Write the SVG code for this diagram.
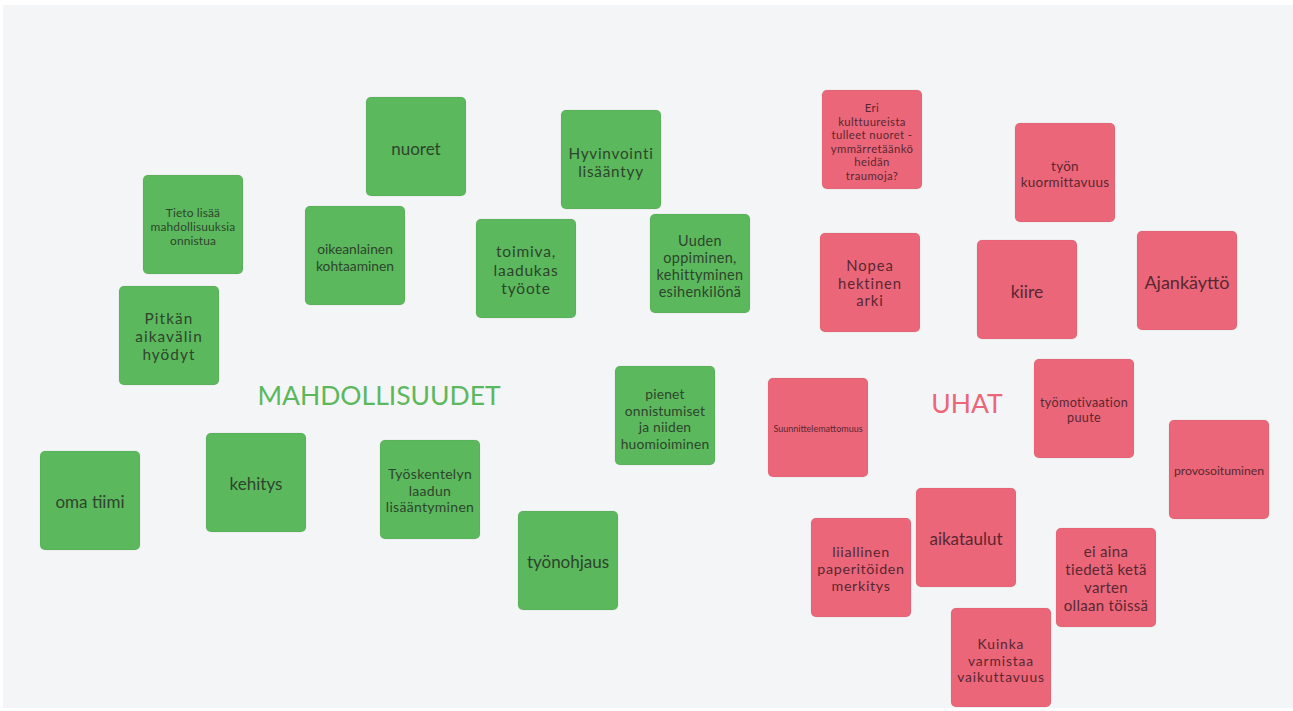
<svg xmlns="http://www.w3.org/2000/svg" width="1293" height="711" viewBox="0 0 1293 711">
<style>
.bg{fill:#f4f5f7}
.g{fill:#5cb85c}
.r{fill:#eb6679}
.n{stroke:rgba(0,0,0,0.06);stroke-width:1}
.tg{fill:#2c452c;font-family:Lato,"Liberation Sans",sans-serif;text-anchor:middle;dominant-baseline:central}
.tr{fill:#5a2631;font-family:Lato,"Liberation Sans",sans-serif;text-anchor:middle;dominant-baseline:central}
.big{font-family:Lato,"Liberation Sans",sans-serif;font-size:26.5px;text-anchor:middle;dominant-baseline:central}
</style>
<rect x="0" y="0" width="1293" height="711" fill="#ffffff"/>
<rect class="bg" x="3" y="5" width="1290" height="703"/>

<g id="label-mahdollisuudet"><text class="big" x="379" y="395" fill="#5cb85c">MAHDOLLISUUDET</text></g>
<g id="label-uhat"><text class="big" x="967" y="403" fill="#eb6679">UHAT</text></g>

<g id="connectors"></g>

<!-- green notes -->
<g id="g-nuoret"><rect class="g n" x="366" y="97" width="100" height="99" rx="5"/>
<text class="tg" font-size="17" x="416" y="148">nuoret</text></g>

<g id="g-hyvinvointi"><rect class="g n" x="561" y="110" width="100" height="99" rx="5"/>
<text class="tg" font-size="15.3" letter-spacing="0.75"><tspan x="611" y="153">Hyvinvointi</tspan><tspan x="611" y="171">lisääntyy</tspan></text></g>

<g id="g-tieto"><rect class="g n" x="143" y="175" width="100" height="99" rx="5"/>
<text class="tg" font-size="11.9" letter-spacing="0.15"><tspan x="193" y="212">Tieto lisää</tspan><tspan x="193" y="226">mahdollisuuksia</tspan><tspan x="193" y="240">onnistua</tspan></text></g>

<g id="g-oikeanlainen"><rect class="g n" x="305" y="206" width="100" height="99" rx="5"/>
<text class="tg" font-size="13.8"><tspan x="355" y="248">oikeanlainen</tspan><tspan x="355" y="265">kohtaaminen</tspan></text></g>

<g id="g-toimiva"><rect class="g n" x="476" y="219" width="100" height="99" rx="5"/>
<text class="tg" font-size="15.5" letter-spacing="0.8"><tspan x="526" y="251">toimiva,</tspan><tspan x="526" y="269.5">laadukas</tspan><tspan x="526" y="288">työote</tspan></text></g>

<g id="g-uuden"><rect class="g n" x="650" y="214" width="100" height="99" rx="5"/>
<text class="tg" font-size="14.4" letter-spacing="0.35"><tspan x="700" y="240">Uuden</tspan><tspan x="700" y="257">oppiminen,</tspan><tspan x="700" y="274">kehittyminen</tspan><tspan x="700" y="291">esihenkilönä</tspan></text></g>

<g id="g-pitkan"><rect class="g n" x="119" y="286" width="100" height="99" rx="5"/>
<text class="tg" font-size="15.3" letter-spacing="1.1"><tspan x="169" y="318">Pitkän</tspan><tspan x="169" y="336">aikavälin</tspan><tspan x="169" y="354">hyödyt</tspan></text></g>

<g id="g-pienet"><rect class="g n" x="615" y="366" width="100" height="99" rx="5"/>
<text class="tg" font-size="13.8" letter-spacing="0.2"><tspan x="665" y="393">pienet</tspan><tspan x="665" y="409.5">onnistumiset</tspan><tspan x="665" y="426">ja niiden</tspan><tspan x="665" y="442.5">huomioiminen</tspan></text></g>

<g id="g-omatiimi"><rect class="g n" x="40" y="451" width="100" height="99" rx="5"/>
<text class="tg" font-size="17" x="90" y="501">oma tiimi</text></g>

<g id="g-kehitys"><rect class="g n" x="206" y="433" width="100" height="99" rx="5"/>
<text class="tg" font-size="17" x="256" y="483">kehitys</text></g>

<g id="g-tyoskentelyn"><rect class="g n" x="380" y="440" width="100" height="99" rx="5"/>
<text class="tg" font-size="14" letter-spacing="0.3"><tspan x="430" y="473">Työskentelyn</tspan><tspan x="430" y="489.5">laadun</tspan><tspan x="430" y="506">lisääntyminen</tspan></text></g>

<g id="g-tyonohjaus"><rect class="g n" x="518" y="511" width="100" height="99" rx="5"/>
<text class="tg" font-size="17" x="568" y="561">työnohjaus</text></g>

<!-- red notes -->
<g id="r-eri"><rect class="r n" x="822" y="90" width="100" height="99" rx="5"/>
<text class="tr" font-size="11.3" letter-spacing="0.4"><tspan x="872" y="107">Eri</tspan><tspan x="872" y="120.6">kulttuureista</tspan><tspan x="872" y="134.2">tulleet nuoret -</tspan><tspan x="872" y="147.8">ymmärretäänkö</tspan><tspan x="872" y="161.4">heidän</tspan><tspan x="872" y="175">traumoja?</tspan></text></g>

<g id="r-kuormittavuus"><rect class="r n" x="1015" y="123" width="100" height="99" rx="5"/>
<text class="tr" font-size="13.4" letter-spacing="0.3"><tspan x="1065" y="166">työn</tspan><tspan x="1065" y="182">kuormittavuus</tspan></text></g>

<g id="r-nopea"><rect class="r n" x="820" y="233" width="100" height="99" rx="5"/>
<text class="tr" font-size="14.8" letter-spacing="0.9"><tspan x="870" y="265">Nopea</tspan><tspan x="870" y="282.5">hektinen</tspan><tspan x="870" y="300">arki</tspan></text></g>

<g id="r-kiire"><rect class="r n" x="977" y="240" width="100" height="99" rx="5"/>
<text class="tr" font-size="17.5" x="1027" y="291">kiire</text></g>

<g id="r-ajankaytto"><rect class="r n" x="1137" y="231" width="100" height="99" rx="5"/>
<text class="tr" font-size="18" x="1187" y="282">Ajankäyttö</text></g>

<g id="r-suunnittelemattomuus"><rect class="r n" x="768" y="378" width="100" height="99" rx="5"/>
<text class="tr" font-size="9" x="818" y="428">Suunnittelemattomuus</text></g>

<g id="r-tyomotivaation"><rect class="r n" x="1034" y="359" width="100" height="99" rx="5"/>
<text class="tr" font-size="12.6" letter-spacing="0.33"><tspan x="1084" y="402">työmotivaation</tspan><tspan x="1084" y="417">puute</tspan></text></g>

<g id="r-provosoituminen"><rect class="r n" x="1169" y="420" width="100" height="99" rx="5"/>
<text class="tr" font-size="12.2" x="1219" y="470">provosoituminen</text></g>

<g id="r-aikataulut"><rect class="r n" x="916" y="488" width="100" height="99" rx="5"/>
<text class="tr" font-size="17" x="966" y="538">aikataulut</text></g>

<g id="r-liiallinen"><rect class="r n" x="811" y="518" width="100" height="99" rx="5"/>
<text class="tr" font-size="14.3" letter-spacing="0.65"><tspan x="861" y="551">liiallinen</tspan><tspan x="861" y="568">paperitöiden</tspan><tspan x="861" y="585">merkitys</tspan></text></g>

<g id="r-eiaina"><rect class="r n" x="1056" y="528" width="100" height="99" rx="5"/>
<text class="tr" font-size="15" letter-spacing="0.3"><tspan x="1106" y="551">ei aina</tspan><tspan x="1106" y="569">tiedetä ketä</tspan><tspan x="1106" y="587">varten</tspan><tspan x="1106" y="605">ollaan töissä</tspan></text></g>

<g id="r-kuinka"><rect class="r n" x="951" y="608" width="100" height="99" rx="5"/>
<text class="tr" font-size="13.8" letter-spacing="0.9"><tspan x="1001" y="643">Kuinka</tspan><tspan x="1001" y="659.5">varmistaa</tspan><tspan x="1001" y="676">vaikuttavuus</tspan></text></g>
</svg>
